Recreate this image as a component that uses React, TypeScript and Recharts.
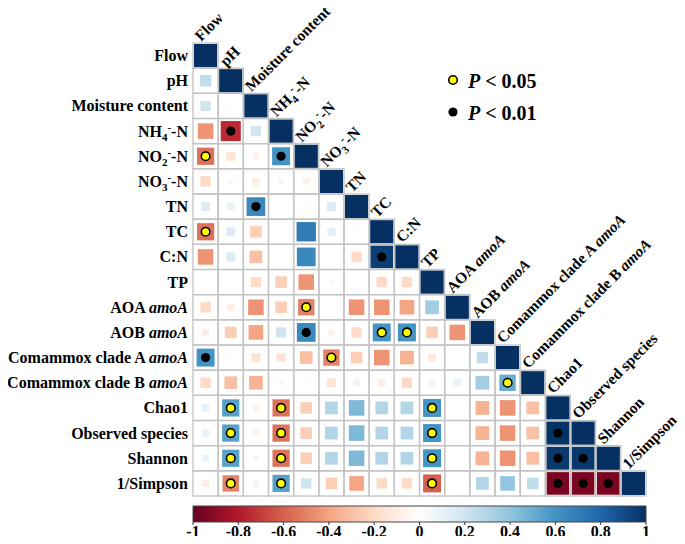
import React from 'react';
import { ScatterChart, Scatter, XAxis, YAxis, ComposedChart, ReferenceArea, Line } from 'recharts';

// ---------- data ----------
const variables: string[] = [
  'Flow', 'pH', 'Moisture content', 'NH4-N', 'NO2-N', 'NO3-N', 'TN', 'TC', 'C:N', 'TP',
  'AOA amoA', 'AOB amoA', 'Comammox clade A amoA', 'Comammox clade B amoA',
  'Chao1', 'Observed species', 'Shannon', '1/Simpson',
];

// lower triangle, row i holds correlations with columns 0..i-1
const correlations: number[][] = [
  [],
  [0.25],
  [0.2, 0.03],
  [-0.45, -0.75, 0.2],
  [-0.55, -0.15, -0.08, 0.6],
  [-0.2, -0.05, -0.1, 0.06, -0.08],
  [0.15, 0.1, 0.65, 0.02, -0.03, 0.15],
  [-0.55, 0.15, -0.25, 0.02, 0.7, 0.12, -0.03],
  [-0.45, 0.15, -0.3, 0.01, 0.65, 0.01, -0.2, 0.95],
  [0.01, 0.01, -0.2, -0.25, -0.45, -0.05, 0.01, -0.2, -0.2],
  [-0.2, -0.1, -0.45, -0.25, -0.5, 0.01, -0.45, -0.45, -0.4, 0.35],
  [-0.1, -0.25, -0.4, 0.2, 0.65, -0.08, -0.2, 0.6, 0.6, -0.25, -0.45],
  [0.6, -0.03, -0.15, -0.15, -0.3, -0.5, -0.25, -0.45, -0.35, -0.12, -0.02, 0.25],
  [-0.2, -0.3, -0.35, -0.05, -0.03, -0.15, 0.08, -0.1, -0.2, 0.08, 0.1, 0.35, 0.5],
  [0.1, 0.55, -0.08, -0.55, -0.25, 0.3, 0.45, 0.3, 0.3, 0.6, 0.01, -0.35, -0.45, -0.3],
  [0.1, 0.55, -0.08, -0.55, -0.25, 0.3, 0.45, 0.3, 0.3, 0.6, 0.01, -0.35, -0.45, -0.3, 0.99],
  [0.1, 0.55, -0.06, -0.55, -0.25, 0.3, 0.45, 0.3, 0.3, 0.6, 0.01, -0.35, -0.45, -0.3, 0.97, 0.97],
  [-0.1, -0.5, 0.08, 0.55, 0.2, -0.25, -0.4, -0.2, -0.2, -0.6, 0.01, 0.3, 0.4, 0.25, -0.95, -0.95, -0.95],
];

const significant05: [string, string][] = [
  ['NO2-N', 'Flow'], ['TC', 'Flow'], ['AOA amoA', 'NO2-N'], ['AOB amoA', 'TC'], ['AOB amoA', 'C:N'],
  ['Comammox clade A amoA', 'NO3-N'], ['Comammox clade B amoA', 'Comammox clade A amoA'],
  ['Chao1', 'pH'], ['Chao1', 'NH4-N'], ['Chao1', 'TP'],
  ['Observed species', 'pH'], ['Observed species', 'NH4-N'], ['Observed species', 'TP'],
  ['Shannon', 'pH'], ['Shannon', 'NH4-N'], ['Shannon', 'TP'],
  ['1/Simpson', 'pH'], ['1/Simpson', 'NH4-N'], ['1/Simpson', 'TP'],
];

const significant01: [string, string][] = [
  ['NH4-N', 'pH'], ['NO2-N', 'NH4-N'], ['TN', 'Moisture content'], ['C:N', 'TC'], ['AOB amoA', 'NO2-N'],
  ['Comammox clade A amoA', 'Flow'], ['Observed species', 'Chao1'], ['Shannon', 'Chao1'],
  ['Shannon', 'Observed species'], ['1/Simpson', 'Chao1'], ['1/Simpson', 'Observed species'],
  ['1/Simpson', 'Shannon'],
];

const colorbarTicks: number[] = [-1, -0.8, -0.6, -0.4, -0.2, 0, 0.2, 0.4, 0.6, 0.8, 1];
const rdbu: string[] = ['#67001F', '#B2182B', '#D6604D', '#F4A582', '#FDDBC7', '#FFFFFF', '#D1E5F0', '#92C5DE', '#4393C3', '#2166AC', '#053061'];

// ---------- layout ----------
const N = variables.length;
const CHART_W = 685;
const CHART_H = 536;
const M_LEFT = 193;
const M_TOP = 43;
const PLOT = 453;
const CELL = PLOT / N;
const FONT = "'Times New Roman', 'Liberation Serif', serif";
const LABEL_SIZE = 16;
const TOP_LABEL_SIZE = 15.5;

function hexToRgb(h: string) {
  return [parseInt(h.slice(1, 3), 16), parseInt(h.slice(3, 5), 16), parseInt(h.slice(5, 7), 16)];
}
function corrColor(r: number) {
  const t = ((Math.max(-1, Math.min(1, r)) + 1) / 2) * (rdbu.length - 1);
  const i = Math.min(rdbu.length - 2, Math.floor(t));
  const f = t - i;
  const a = hexToRgb(rdbu[i]);
  const b = hexToRgb(rdbu[i + 1]);
  const c = a.map((v, k) => Math.round(v + (b[k] - v) * f));
  return `rgb(${c[0]},${c[1]},${c[2]})`;
}

function sigLevel(row: string, col: string) {
  if (significant01.some(([a, b]) => a === row && b === col)) return 2;
  if (significant05.some(([a, b]) => a === row && b === col)) return 1;
  return 0;
}

type CellDatum = { x: number; y: number; r: number; sig: number; row: number; col: number };
const cells: CellDatum[] = [];
variables.forEach((rowName, i) => {
  for (let j = 0; j <= i; j++) {
    cells.push({
      x: j + 0.5,
      y: i + 0.5,
      r: i === j ? 1 : correlations[i][j],
      sig: i === j ? 0 : sigLevel(rowName, variables[j]),
      row: i,
      col: j,
    });
  }
});

function labelParts(name: string) {
  const m = name.match(/^(N[HO])(\d)-N$/);
  if (m) {
    return [
      <tspan key="a">{m[1]}</tspan>,
      <tspan key="b" dy={4} fontSize={11}>{m[2]}</tspan>,
      <tspan key="c" dy={-10} fontSize={11}>-</tspan>,
      <tspan key="d" dy={6}>-N</tspan>,
    ];
  }
  if (name.endsWith(' amoA')) {
    return [
      <tspan key="a">{name.slice(0, -4)}</tspan>,
      <tspan key="b" fontStyle="italic">amoA</tspan>,
    ];
  }
  return name;
}

const CellShape = (props: any) => {
  const { cx, cy } = props;
  const d: CellDatum = props.payload ?? props;
  if (cx == null || cy == null) return <g />;
  const half = CELL / 2;
  const side = Math.sqrt(Math.abs(d.r)) * (CELL - 2);
  const x0 = cx - half;
  const y0 = cy - half;
  const lx = x0 + 8;
  const ly = y0 - 1;
  return (
    <g>
      <rect x={cx - side / 2} y={cy - side / 2} width={side} height={side} fill={corrColor(d.r)} />
      <rect x={x0} y={y0} width={CELL} height={CELL} fill="none" stroke="#c2c2c2" strokeWidth={1.3} />
      {d.sig === 1 && <circle cx={cx} cy={cy} r={4.3} fill="#ffff00" stroke="#000" strokeWidth={1.6} />}
      {d.sig === 2 && <circle cx={cx} cy={cy} r={4.6} fill="#000" />}
      {d.col === 0 && (
        <text x={x0 - 5} y={cy + 5.5} textAnchor="end" fontFamily={FONT} fontWeight="bold" fontSize={LABEL_SIZE} fill="#000">
          {labelParts(variables[d.row])}
        </text>
      )}
      {d.row === d.col && (
        <text
          x={lx}
          y={ly}
          transform={`rotate(-45 ${lx} ${ly})`}
          fontFamily={FONT}
          fontWeight="bold"
          fontSize={TOP_LABEL_SIZE}
          fill="#000"
        >
          {labelParts(variables[d.col])}
        </text>
      )}
    </g>
  );
};

const colorbarData = [{ v: -1, y: 0 }, { v: 1, y: 0 }];

export default function App() {
  return (
    <div style={{ position: 'relative', width: CHART_W, height: CHART_H, marginLeft: -8, marginTop: -8 }}>
      <ScatterChart
        width={CHART_W}
        height={CHART_H}
        margin={{ top: M_TOP, left: M_LEFT, right: CHART_W - M_LEFT - PLOT, bottom: CHART_H - M_TOP - PLOT }}
      >
        <XAxis type="number" dataKey="x" domain={[0, N]} hide />
        <YAxis type="number" dataKey="y" domain={[0, N]} reversed hide />
        <Scatter data={cells} shape={CellShape} isAnimationActive={false} />
      </ScatterChart>

      <div style={{ position: 'absolute', left: 0, top: 502 }}>
        <ComposedChart
          width={CHART_W}
          height={40}
          data={colorbarData}
          margin={{ top: 4, left: M_LEFT, right: CHART_W - M_LEFT - PLOT, bottom: 0 }}
        >
          <defs>
            <linearGradient id="cbGrad" x1="0" y1="0" x2="1" y2="0">
              {rdbu.map((c, i) => (
                <stop key={i} offset={i / (rdbu.length - 1)} stopColor={c} />
              ))}
            </linearGradient>
          </defs>
          <XAxis
            type="number"
            dataKey="v"
            domain={[-1, 1]}
            ticks={colorbarTicks}
            interval={0}
            height={20}
            tickSize={3}
            tickMargin={1}
            axisLine={false}
            tickLine={{ stroke: '#333' }}
            tickFormatter={(v: number) => String(v)}
            tick={{ fontFamily: FONT, fontWeight: 'bold', fontSize: 16, fill: '#000' }}
          />
          <YAxis hide domain={[0, 1]} />
          <ReferenceArea x1={-1} x2={1} y1={0} y2={1} fill="url(#cbGrad)" fillOpacity={1} stroke="#444" strokeWidth={1} />
          <Line dataKey="y" stroke="none" dot={false} isAnimationActive={false} />
        </ComposedChart>
      </div>

      <svg
        width={CHART_W}
        height={CHART_H}
        style={{ position: 'absolute', left: 0, top: 0, pointerEvents: 'none' }}
      >
        <circle cx={453} cy={80} r={4.3} fill="#ffff00" stroke="#000" strokeWidth={1.6} />
        <text x={468} y={88} fontFamily={FONT} fontWeight="bold" fontSize={20} fill="#000">
          <tspan fontStyle="italic">P</tspan>
          <tspan>{' < 0.05'}</tspan>
        </text>
        <circle cx={453} cy={112} r={4.6} fill="#000" />
        <text x={468} y={120} fontFamily={FONT} fontWeight="bold" fontSize={20} fill="#000">
          <tspan fontStyle="italic">P</tspan>
          <tspan>{' < 0.01'}</tspan>
        </text>
      </svg>
    </div>
  );
}
